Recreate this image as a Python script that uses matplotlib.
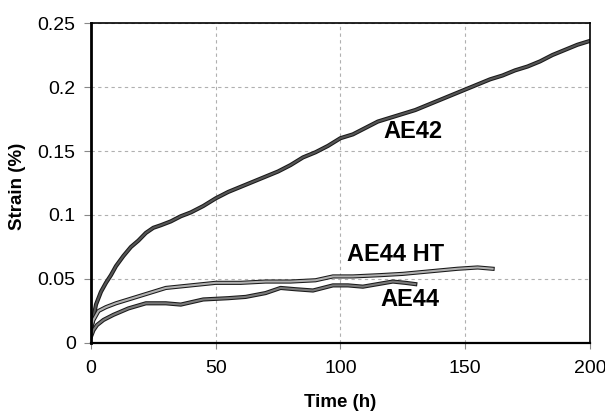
import matplotlib
matplotlib.use("Agg")
from matplotlib import pyplot as plt
import matplotlib.patheffects as pe

# data
t_ae42 = [0, 1, 2, 4, 6, 8, 10, 13, 16, 19, 22, 25, 28, 32, 36, 40, 45, 50,
          55, 60, 65, 70, 75, 80, 85, 90, 95, 100, 105, 110, 115, 120, 125,
          130, 135, 140, 145, 150, 155, 160, 165, 170, 175, 180, 185, 190,
          195, 200]
s_ae42 = [0.01, 0.02, 0.03, 0.04, 0.047, 0.053, 0.06, 0.068, 0.075, 0.08,
          0.086, 0.09, 0.092, 0.095, 0.099, 0.102, 0.107, 0.113, 0.118, 0.122,
          0.126, 0.13, 0.134, 0.139, 0.145, 0.149, 0.154, 0.16, 0.163, 0.168,
          0.173, 0.176, 0.179, 0.182, 0.186, 0.19, 0.194, 0.198, 0.202, 0.206,
          0.209, 0.213, 0.216, 0.22, 0.225, 0.229, 0.233, 0.236]

t_ae44ht = [0, 1, 3, 6, 10, 15, 20, 25, 30, 35, 40, 50, 60, 70, 80, 90, 97,
            105, 116, 125, 136, 147, 155, 161]
s_ae44ht = [0.012, 0.018, 0.025, 0.028, 0.031, 0.034, 0.037, 0.04, 0.043,
            0.044, 0.045, 0.047, 0.047, 0.048, 0.048, 0.049, 0.052, 0.052,
            0.053, 0.054, 0.056, 0.058, 0.059, 0.058]

t_ae44 = [0, 1, 2.4, 5, 9, 15, 22, 30, 36, 45, 55, 62, 70, 76, 82, 89, 97,
          103, 109, 115, 121, 126, 130]
s_ae44 = [0.005, 0.01, 0.014, 0.018, 0.022, 0.027, 0.031, 0.031, 0.030,
          0.034, 0.035, 0.036, 0.039, 0.043, 0.042, 0.041, 0.045, 0.045,
          0.044, 0.046, 0.048, 0.047, 0.046]

labels = [("AE42", 129, 0.165), ("AE44 HT", 122, 0.0695), ("AE44", 128, 0.034)]

fig = plt.figure(figsize=(6.05, 4.17), dpi=100)
ax = fig.add_axes([0.1504, 0.1775, 0.8246, 0.7673])

def textured(x, y, fill):
    ax.plot(x, y, color=fill, lw=1.5, solid_joinstyle="round",
            path_effects=[pe.Stroke(linewidth=3.0, foreground="#1a1a1a"), pe.Normal()])

textured(t_ae42, s_ae42, "#555555")
textured(t_ae44ht, s_ae44ht, "#b0b0b0")
textured(t_ae44, s_ae44, "#7a7a7a")

for txt, x, y in labels:
    ax.text(x, y, txt, ha="center", va="center", fontsize=17, fontweight="bold",
            family="Liberation Sans")

ax.set_xlim(0, 200)
ax.set_ylim(0, 0.25)
ax.set_xticks([0, 50, 100, 150, 200])
ax.set_yticks([0, 0.05, 0.1, 0.15, 0.2, 0.25])
ax.set_yticklabels(["0", "0.05", "0.1", "0.15", "0.2", "0.25"])
ax.grid(True, color="#b0b0b0", ls=(0, (3, 3)), lw=0.8)
ax.tick_params(axis="y", labelsize=14, length=5, pad=6, color="#888888")
ax.tick_params(axis="x", labelsize=14, length=4, pad=8, color="#888888")
for lbl in ax.get_xticklabels() + ax.get_yticklabels():
    lbl.set_family("Liberation Sans")
for s in ax.spines.values():
    s.set_linewidth(1.2)
ax.spines["left"].set_linewidth(2)
ax.spines["bottom"].set_linewidth(1.6)

ax.set_xlabel("Time (h)", fontsize=13.5, fontweight="bold", family="Liberation Sans", va="center")
ax.set_ylabel("Strain (%)", fontsize=13.5, fontweight="bold", family="Liberation Sans", va="center")
ax.xaxis.set_label_coords(0.5, -0.1875)
ax.yaxis.set_label_coords(-0.148, 0.49)

fig.savefig("out.png", dpi=100)
